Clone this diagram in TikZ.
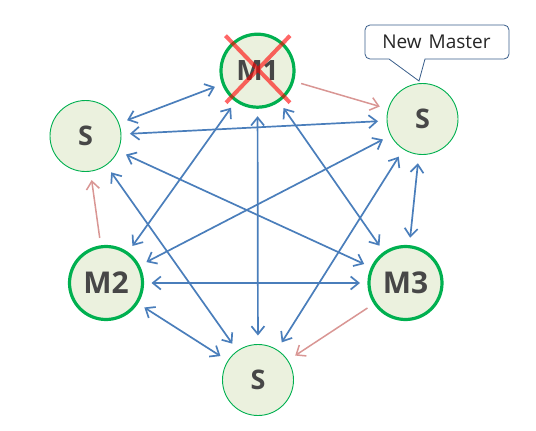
\documentclass[tikz,border=0pt]{standalone}
\usepackage{fontspec}
\setmainfont{Open Sans}
\usetikzlibrary{arrows.meta}
\definecolor{nodefill}{HTML}{EBF1DE}
\definecolor{nodeline}{HTML}{00B050}
\definecolor{linkblue}{HTML}{4A7EBB}
\definecolor{linkpink}{HTML}{D99694}
\definecolor{labelgray}{HTML}{474747}
\definecolor{calloutline}{HTML}{385D8A}
\tikzstyle{slavestyle}=[circle, draw=nodeline, fill=nodefill, line width=0.9pt,
minimum size=71pt, inner sep=0pt, outer sep=9pt, text=labelgray,
font=\fontsize{27}{27}\selectfont\bfseries]
\tikzstyle{masterstyle}=[slavestyle, line width=3.2pt, minimum size=73pt,
font=\fontsize{30}{30}\selectfont\bfseries]
\tikzstyle{linkstyle}=[{Straight Barb[length=8pt,width=13pt]}-{Straight Barb[length=8pt,width=13pt]},
draw=linkblue, line width=1.7pt]
\tikzstyle{failstyle}=[-{Straight Barb[length=8pt,width=13pt]}, draw=linkpink, line width=1.5pt]

\begin{document}
\begin{tikzpicture}[x=1pt,y=-1pt]
\useasboundingbox (0,0) rectangle (536,431);

% Masters
\node[masterstyle, font=\fontsize{28}{28}\selectfont\bfseries] (m1) at (257.5,70.7) {M1};
\node[masterstyle] (m2) at (106,283) {M2};
\node[masterstyle] (m3) at (405.5,283) {M3};

% Slaves
\node[slavestyle] (sl) at (85.5,136) {S};
\node[slavestyle] (sr) at (422.5,119) {S};
\node[slavestyle] (sb) at (258,380) {S};

% Replication links
\draw[linkstyle] (m1) -- (sl);
\draw[linkstyle] (m1) -- (m2);
\draw[linkstyle] (m1) -- (sb);
\draw[linkstyle] (m1) -- (m3);
\draw[linkstyle] (sl) -- (sr);
\draw[linkstyle] (sl) -- (m3);
\draw[linkstyle] (sl) -- (sb);
\draw[linkstyle] (sr) -- (m2);
\draw[linkstyle] (sr) -- (sb);
\draw[linkstyle] (sr) -- (m3);
\draw[linkstyle] (m2) -- (m3);
\draw[linkstyle] (m2) -- (sb);

% Failover links
\draw[failstyle] (m1) -- (sr);
\draw[failstyle] (m2) -- (sl);
\draw[failstyle] (m3) -- (sb);

% M1 is down
\draw[red, opacity=0.6, line width=4pt] (m1.center) +(-32,-35) -- +(32.5,32)
	(m1.center) +(32.5,-35) -- +(-31.5,32);

% Callout
\draw[calloutline, line width=0.8pt] (389,59) -- (419,81) -- (425,59)
	[rounded corners=5pt] -- (509,59) -- (509,25) -- (365,25) -- (365,59)
	[sharp corners] -- (389,59);
\node[text=black!85, font=\fontsize{19}{19}\selectfont] (newmaster) at (436.5,42) {New\hspace{2pt} Master};

\end{tikzpicture}
\end{document}
